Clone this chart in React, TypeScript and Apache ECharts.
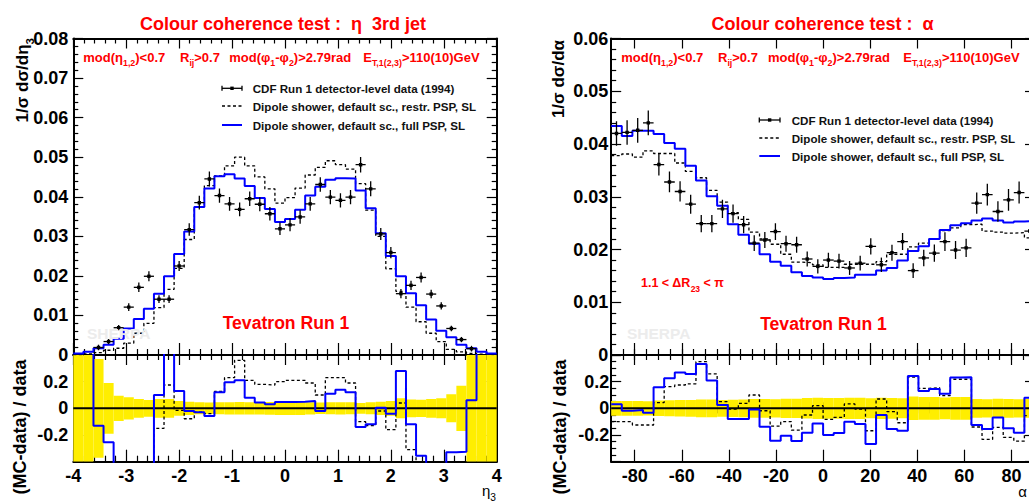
import React, { useEffect, useRef } from 'react';
import * as echarts from 'echarts';

const FONT = '"Liberation Sans", Arial, Helvetica, sans-serif';
const RED = '#ff0000';
const BLUE = '#0000ff';
const YELLOW = '#ffee00';

// ---------- left panel: eta of the 3rd jet, 42 bins on [-4, 4] ----------
const ETA_MIN = -4;
const ETA_MAX = 4;
const ETA_BINS = 42;
const etaData = [null, null, 0.0019, 0.0034, 0.0069, 0.0121, 0.0171, 0.0199, 0.0141, 0.0141, 0.0225, 0.0317, 0.0385, 0.0445, 0.0403, 0.0382, 0.0368, 0.0395, 0.0381, 0.0357, 0.0319, 0.0329, 0.0349, 0.0382, 0.0431, 0.0399, 0.0391, 0.0399, 0.0481, 0.042, 0.0306, 0.0259, 0.0155, 0.0176, 0.0196, 0.0154, 0.0124, 0.0067, 0.0039, 0.0016, null, null];
const etaRelErr = [1, 1, 0.37, 0.19, 0.095, 0.083, 0.07, 0.063, 0.07, 0.07, 0.055, 0.05, 0.045, 0.043, 0.045, 0.046, 0.047, 0.046, 0.046, 0.048, 0.05, 0.05, 0.049, 0.046, 0.043, 0.045, 0.046, 0.045, 0.041, 0.045, 0.05, 0.055, 0.075, 0.066, 0.065, 0.07, 0.075, 0.105, 0.17, 0.45, 1, 1];
const etaRestr = [0.0001, 0.0003, 0.0006, 0.0012, 0.0017, 0.003, 0.0055, 0.008, 0.012, 0.0166, 0.0219, 0.0292, 0.0373, 0.0428, 0.0453, 0.0478, 0.05, 0.0478, 0.045, 0.042, 0.0384, 0.0398, 0.0422, 0.0455, 0.0474, 0.0491, 0.0481, 0.047, 0.0433, 0.0366, 0.03, 0.0218, 0.0161, 0.0121, 0.0084, 0.0055, 0.0034, 0.0014, 0.0008, 0.0004, 0.0002, 0.0001];
const etaFull = [0.0004, 0.0008, 0.0017, 0.0026, 0.0041, 0.0067, 0.0091, 0.0117, 0.0155, 0.0199, 0.0255, 0.0312, 0.0374, 0.0421, 0.0452, 0.0457, 0.0446, 0.0427, 0.0397, 0.0369, 0.0336, 0.0344, 0.0367, 0.0403, 0.0425, 0.0443, 0.0447, 0.0446, 0.0416, 0.0371, 0.0308, 0.025, 0.0199, 0.0156, 0.0126, 0.009, 0.0061, 0.0045, 0.0026, 0.0017, 0.0008, 0.0004];
const etaRatioRestr = [-0.6, -0.6, -0.6, -0.6, -0.6, -0.6, -0.6, -0.6, -0.15, 0.175, -0.015, -0.078, -0.028, -0.04, 0.127, 0.23, 0.36, 0.21, 0.18, 0.175, 0.2, 0.21, 0.21, 0.19, 0.1, 0.23, 0.23, 0.19, -0.1, -0.13, -0.02, -0.16, 0.04, -0.31, -0.6, -0.6, -0.6, -0.6, -0.6, -0.6, -0.6, -0.6];
const etaRatioFull = [0.6, 0.6, -0.13, -0.255, -0.6, -0.6, -0.6, -0.6, 0.1, 0.6, 0.13, -0.02, -0.03, -0.058, 0.12, 0.195, 0.21, 0.08, 0.043, 0.03, 0.048, 0.048, 0.05, 0.055, -0.02, 0.11, 0.14, 0.12, -0.14, -0.12, 0.005, -0.04, 0.28, -0.12, -0.355, -0.6, -0.6, -0.33, -0.325, 0.06, 0.6, 0.6];

// ---------- right panel: alpha, 40 bins on [-90, 90] ----------
const ALPHA_MIN = -90;
const ALPHA_MAX = 90;
const ALPHA_BINS = 40;
const alphaMajorTicks = [-80, -60, -40, -20, 0, 20, 40, 60, 80];
const alphaData = [0.042, 0.0422, 0.0426, 0.044, 0.0361, 0.0328, 0.031, 0.0286, 0.0249, 0.0249, 0.0277, 0.0268, 0.0247, 0.0212, 0.0218, 0.0234, 0.0211, 0.0209, 0.0182, 0.0168, 0.018, 0.0178, 0.0165, 0.0174, 0.0206, 0.0171, 0.0194, 0.0215, 0.016, 0.0184, 0.0193, 0.0215, 0.0199, 0.0203, 0.0288, 0.0304, 0.0272, 0.0294, 0.0308, 0.0235];
const alphaRelErr = [0.055, 0.055, 0.055, 0.053, 0.058, 0.06, 0.062, 0.063, 0.066, 0.066, 0.063, 0.064, 0.066, 0.07, 0.07, 0.068, 0.072, 0.072, 0.077, 0.08, 0.078, 0.078, 0.08, 0.08, 0.075, 0.08, 0.078, 0.075, 0.088, 0.085, 0.085, 0.082, 0.085, 0.085, 0.07, 0.068, 0.072, 0.07, 0.068, 0.07];
const alphaRestr = [0.0378, 0.0381, 0.0375, 0.0387, 0.0382, 0.0382, 0.0364, 0.0348, 0.0336, 0.0312, 0.029, 0.027, 0.0257, 0.0233, 0.022, 0.021, 0.0191, 0.0176, 0.0175, 0.0171, 0.0166, 0.0166, 0.0172, 0.0172, 0.0172, 0.0177, 0.0191, 0.0191, 0.0205, 0.0212, 0.022, 0.0236, 0.0241, 0.0247, 0.0248, 0.0235, 0.0233, 0.0231, 0.0232, 0.0222];
const alphaFull = [0.0434, 0.0415, 0.0425, 0.0425, 0.0419, 0.0402, 0.0391, 0.0359, 0.0331, 0.0301, 0.0283, 0.0248, 0.0228, 0.0211, 0.0191, 0.0177, 0.0169, 0.0157, 0.015, 0.0147, 0.0144, 0.0146, 0.0147, 0.0152, 0.0152, 0.016, 0.0165, 0.0179, 0.0197, 0.0206, 0.022, 0.0237, 0.0246, 0.025, 0.0255, 0.0259, 0.0255, 0.0251, 0.0253, 0.0254];
const alphaRatioRestr = [-0.1, -0.1, -0.125, -0.125, 0.043, 0.163, 0.175, 0.183, 0.35, 0.258, 0.05, -0.005, 0.038, 0.1, -0.018, -0.133, -0.1, -0.163, -0.05, 0.02, -0.083, -0.068, 0.033, -0.005, -0.168, 0.07, -0.025, -0.108, 0.235, 0.15, 0.155, 0.095, 0.218, 0.218, -0.14, -0.233, -0.143, -0.218, -0.245, -0.055];
const alphaRatioFull = [0.03, -0.018, -0.013, -0.033, 0.158, 0.225, 0.268, 0.258, 0.333, 0.208, 0.025, -0.08, -0.08, -0.008, -0.138, -0.243, -0.205, -0.245, -0.183, -0.113, -0.2, -0.185, -0.1, -0.118, -0.268, -0.05, -0.155, -0.168, 0.243, 0.13, 0.145, 0.11, 0.232, 0.233, -0.125, -0.155, -0.068, -0.15, -0.183, 0.08];

const RATIO_LIM = 0.4;

// ---------- helpers ----------
function binEdges(min: number, max: number, n: number) {
  return Array.from({ length: n + 1 }, (_, k) => min + ((max - min) * k) / n);
}
function stepData(ed: number[], vals: number[]) {
  const d = vals.map((v, k) => [ed[k], v]);
  d.push([ed[vals.length], vals[vals.length - 1]]);
  return d;
}
function errData(ed: number[], vals: (number | null)[], rel: number[]) {
  const out: number[][] = [];
  vals.forEach((v, k) => {
    if (v == null) return;
    out.push([(ed[k] + ed[k + 1]) / 2, ed[k], ed[k + 1], v, v * rel[k]]);
  });
  return out;
}
function bandData(ed: number[], rel: number[]) {
  return rel.map((r, k) => [ed[k], ed[k + 1], r]);
}

const tickLine = { color: '#000', width: 1.2 };
const frameLine = { show: true, onZero: false, lineStyle: { color: '#000', width: 2 } };
const labelStyle = { show: true, color: '#000', fontFamily: FONT, fontWeight: 'bold', fontSize: 18 };

function etaX(grid: number, position: string, major: number, minor: number, labels: boolean) {
  return {
    type: 'value', gridIndex: grid, position, min: ETA_MIN, max: ETA_MAX, interval: 1,
    axisLine: frameLine,
    axisTick: { show: true, inside: true, length: major, lineStyle: tickLine },
    minorTick: { show: true, splitNumber: 5, length: minor, lineStyle: tickLine },
    axisLabel: labels ? { ...labelStyle, margin: 5 } : { show: false },
    splitLine: { show: false },
  };
}
function alphaXMajor(grid: number, position: string, major: number, labels: boolean) {
  return {
    type: 'value', gridIndex: grid, position, min: ALPHA_MIN, max: ALPHA_MAX, interval: 5,
    axisLine: frameLine,
    axisTick: { show: true, inside: true, length: major, lineStyle: tickLine, customValues: alphaMajorTicks },
    axisLabel: labels
      ? { ...labelStyle, margin: 5, customValues: alphaMajorTicks,
          formatter: (v: number) => (alphaMajorTicks.includes(Math.round(v)) ? String(Math.round(v)) : '') }
      : { show: false },
    splitLine: { show: false },
  };
}
function alphaXMinor(grid: number, position: string, minor: number) {
  return {
    type: 'value', gridIndex: grid, position, min: ALPHA_MIN, max: ALPHA_MAX, interval: 5,
    axisLine: { show: false },
    axisTick: { show: true, inside: true, length: minor, lineStyle: tickLine },
    axisLabel: { show: false },
    splitLine: { show: false },
  };
}
function yAx(grid: number, position: string, min: number, max: number, interval: number, split: number, labels: boolean, margin: number, hideEnds: boolean) {
  return {
    type: 'value', gridIndex: grid, position, min, max, interval,
    axisLine: frameLine,
    axisTick: { show: true, inside: true, length: 10, lineStyle: tickLine },
    minorTick: { show: true, splitNumber: split, length: 5, lineStyle: tickLine },
    axisLabel: labels ? { ...labelStyle, margin, showMinLabel: !hideEnds, showMaxLabel: !hideEnds } : { show: false },
    splitLine: { show: false },
  };
}

function bandSeries(xi: number, yi: number, data: number[][]) {
  return {
    type: 'custom', xAxisIndex: xi, yAxisIndex: yi, z: 1, clip: true, silent: true,
    data,
    renderItem: (_p: any, api: any) => {
      const r = Math.min(api.value(2), RATIO_LIM);
      const p0 = api.coord([api.value(0), r]);
      const p1 = api.coord([api.value(1), -r]);
      return { type: 'rect', shape: { x: p0[0], y: p0[1], width: p1[0] - p0[0], height: p1[1] - p0[1] }, style: { fill: YELLOW } };
    },
  };
}
function errSeries(xi: number, yi: number, data: number[][]) {
  return {
    type: 'custom', xAxisIndex: xi, yAxisIndex: yi, z: 5, clip: true, silent: true,
    data,
    renderItem: (_p: any, api: any) => {
      const xc = api.value(0), x0 = api.value(1), x1 = api.value(2), v = api.value(3), e = api.value(4);
      const pc = api.coord([xc, v]);
      const pl = api.coord([x0, v]);
      const pr = api.coord([x1, v]);
      const pt = api.coord([xc, v + e]);
      const pb = api.coord([xc, Math.max(v - e, 0)]);
      const st = { stroke: '#000', lineWidth: 1.3 };
      return {
        type: 'group',
        children: [
          { type: 'line', shape: { x1: pl[0], y1: pl[1], x2: pr[0], y2: pr[1] }, style: st },
          { type: 'line', shape: { x1: pt[0], y1: pt[1], x2: pb[0], y2: pb[1] }, style: st },
          { type: 'rect', shape: { x: pc[0] - 1.7, y: pc[1] - 1.7, width: 3.4, height: 3.4 }, style: { fill: '#000' } },
        ],
      };
    },
  };
}
function stepSeries(xi: number, yi: number, data: number[][], color: string, width: number, dashed: boolean) {
  return {
    type: 'line', xAxisIndex: xi, yAxisIndex: yi, step: 'end', symbol: 'none', z: 3, clip: true, silent: true,
    data,
    lineStyle: { color, width, type: dashed ? [3, 2.5] : 'solid' },
  };
}
function zeroLine(xi: number, yi: number, min: number, max: number) {
  return {
    type: 'line', xAxisIndex: xi, yAxisIndex: yi, symbol: 'none', z: 2, silent: true,
    data: [[min, 0], [max, 0]],
    lineStyle: { color: '#000', width: 2 },
  };
}

// ---------- text helpers ----------
function rich(x: number, y: number, parts: [string, boolean][], size: number, color: string, opts: any = {}) {
  const text = parts.map(([t, s]) => `{${s ? 's' : 'm'}|${t}}`).join('');
  const weight = opts.weight || 'bold';
  return {
    type: 'text', x, y, rotation: opts.rotation || 0, z: 10, silent: true,
    style: {
      text,
      align: opts.align || 'left',
      verticalAlign: 'middle',
      rich: {
        m: { fontSize: size, fontFamily: FONT, fontWeight: weight, fill: color, lineHeight: size * 1.6, verticalAlign: 'middle' },
        s: { fontSize: size * 0.68, fontFamily: FONT, fontWeight: weight, fill: color, lineHeight: size * 0.68, verticalAlign: 'bottom' },
      },
    },
  };
}
function plain(x: number, y: number, text: string, size: number, color: string, opts: any = {}) {
  return {
    type: 'text', x, y, rotation: opts.rotation || 0, z: 10, silent: true,
    style: {
      text, fill: color, fontSize: size, fontFamily: FONT, fontWeight: opts.weight || 'bold',
      align: opts.align || 'left', verticalAlign: 'middle',
    },
  };
}
function legend(x0: number, x1: number, tx: number, ys: number[]) {
  const mid = (x0 + x1) / 2;
  const st = { stroke: '#000', lineWidth: 1.3 };
  const size = 11.6;
  return [
    { type: 'line', shape: { x1: x0, y1: ys[0], x2: x1, y2: ys[0] }, style: st, z: 10 },
    { type: 'line', shape: { x1: x0, y1: ys[0] - 2.5, x2: x0, y2: ys[0] + 2.5 }, style: st, z: 10 },
    { type: 'line', shape: { x1: x1, y1: ys[0] - 2.5, x2: x1, y2: ys[0] + 2.5 }, style: st, z: 10 },
    { type: 'rect', shape: { x: mid - 1.7, y: ys[0] - 1.7, width: 3.4, height: 3.4 }, style: { fill: '#000' }, z: 10 },
    { type: 'line', shape: { x1: x0, y1: ys[1], x2: x1, y2: ys[1] }, style: { stroke: '#000', lineWidth: 1.3, lineDash: [3, 2.5] }, z: 10 },
    { type: 'line', shape: { x1: x0, y1: ys[2], x2: x1, y2: ys[2] }, style: { stroke: BLUE, lineWidth: 2 }, z: 10 },
    plain(tx, ys[0], 'CDF Run 1 detector-level data (1994)', size, '#111'),
    plain(tx, ys[1], 'Dipole shower, default sc., restr. PSP, SL', size, '#111'),
    plain(tx, ys[2], 'Dipole shower, default sc., full PSP, SL', size, '#111'),
  ];
}
function cuts(starts: number[], y: number) {
  const sz = 13;
  return [
    rich(starts[0], y, [['mod(η', false], ['1,2', true], [')<0.7', false]], sz, RED),
    rich(starts[1], y, [['R', false], ['ij', true], ['>0.7', false]], sz, RED),
    rich(starts[2], y, [['mod(φ', false], ['1', true], ['-φ', false], ['2', true], [')>2.79rad', false]], sz, RED),
    rich(starts[3], y, [['E', false], ['T,1(2,3)', true], ['>110(10)GeV', false]], sz, RED),
  ];
}

export default function App() {
  const ref = useRef<HTMLDivElement>(null);
  useEffect(() => {
    if (!ref.current) return;
    const chart = echarts.init(ref.current, undefined, { renderer: 'svg' });
    const etaEd = binEdges(ETA_MIN, ETA_MAX, ETA_BINS);
    const alEd = binEdges(ALPHA_MIN, ALPHA_MAX, ALPHA_BINS);

    const option: any = {
      animation: false,
      backgroundColor: '#ffffff',
      grid: [
        { left: 73.3, top: 38.5, width: 423.4, height: 316.5 },
        { left: 73.3, top: 355, width: 423.4, height: 106.7 },
        { left: 611.2, top: 38.5, width: 423.8, height: 316.5 },
        { left: 611.2, top: 355, width: 423.8, height: 106.7 },
      ],
      xAxis: [
        etaX(0, 'bottom', 12, 6, false),
        etaX(0, 'top', 10, 5, false),
        etaX(1, 'bottom', 12, 6, true),
        etaX(1, 'top', 10, 5, false),
        alphaXMajor(2, 'bottom', 12, false),
        alphaXMinor(2, 'bottom', 6),
        alphaXMajor(2, 'top', 10, false),
        alphaXMinor(2, 'top', 5),
        alphaXMajor(3, 'bottom', 12, true),
        alphaXMinor(3, 'bottom', 6),
        alphaXMajor(3, 'top', 10, false),
        alphaXMinor(3, 'top', 5),
      ],
      yAxis: [
        yAx(0, 'left', 0, 0.08, 0.01, 5, true, 5, false),
        yAx(0, 'right', 0, 0.08, 0.01, 5, false, 5, false),
        yAx(1, 'left', -RATIO_LIM, RATIO_LIM, 0.2, 4, true, 5, true),
        yAx(1, 'right', -RATIO_LIM, RATIO_LIM, 0.2, 4, false, 5, true),
        yAx(2, 'left', 0, 0.06, 0.01, 5, true, 3, false),
        yAx(2, 'right', 0, 0.06, 0.01, 5, false, 3, false),
        yAx(3, 'left', -RATIO_LIM, RATIO_LIM, 0.2, 4, true, 2, true),
        yAx(3, 'right', -RATIO_LIM, RATIO_LIM, 0.2, 4, false, 2, true),
      ],
      series: [
        // left main
        stepSeries(0, 0, stepData(etaEd, etaRestr), '#000', 1.3, true),
        stepSeries(0, 0, stepData(etaEd, etaFull), BLUE, 2, false),
        errSeries(0, 0, errData(etaEd, etaData, etaRelErr)),
        // left ratio
        bandSeries(2, 2, bandData(etaEd, etaRelErr)),
        zeroLine(2, 2, ETA_MIN, ETA_MAX),
        stepSeries(2, 2, stepData(etaEd, etaRatioRestr), '#000', 1.3, true),
        stepSeries(2, 2, stepData(etaEd, etaRatioFull), BLUE, 2, false),
        // right main
        stepSeries(4, 4, stepData(alEd, alphaRestr), '#000', 1.3, true),
        stepSeries(4, 4, stepData(alEd, alphaFull), BLUE, 2, false),
        errSeries(4, 4, errData(alEd, alphaData, alphaRelErr)),
        // right ratio
        bandSeries(8, 6, bandData(alEd, alphaRelErr)),
        zeroLine(8, 6, ALPHA_MIN, ALPHA_MAX),
        stepSeries(8, 6, stepData(alEd, alphaRatioRestr), '#000', 1.3, true),
        stepSeries(8, 6, stepData(alEd, alphaRatioFull), BLUE, 2, false),
      ],
      graphic: [
        plain(283, 24, 'Colour coherence test :  η  3rd jet', 18, RED, { align: 'center' }),
        plain(822.5, 24, 'Colour coherence test :  α', 18, RED, { align: 'center' }),
        ...cuts([83.3, 180, 229.3, 363.3], 57),
        ...cuts([621.3, 718, 768, 903.3], 57),
        ...legend(222, 242, 252.7, [88.3, 106, 125]),
        ...legend(759.3, 780, 791.7, [120, 138, 156]),
        plain(286, 323, 'Tevatron Run 1', 17.6, RED, { align: 'center' }),
        plain(823.5, 324, 'Tevatron Run 1', 17.6, RED, { align: 'center' }),
        plain(87, 333, 'SHERPA', 15.5, '#ececec'),
        plain(627, 333, 'SHERPA', 15.5, '#ececec'),
        rich(641, 283, [['1.1 < ΔR', false], ['23', true], [' < π', false]], 12.5, RED),
        rich(22, 38, [['1/σ dσ/dη', false], ['3', true]], 17, '#000', { rotation: Math.PI / 2, align: 'right' }),
        rich(558, 40, [['1/σ dσ/dα', false]], 17, '#000', { rotation: Math.PI / 2, align: 'right' }),
        plain(20, 427, '(MC-data) / data', 18, '#000', { rotation: Math.PI / 2, align: 'center' }),
        plain(560, 427, '(MC-data) / data', 18, '#000', { rotation: Math.PI / 2, align: 'center' }),
        rich(496, 490, [['η', false], ['3', true]], 15, '#000', { align: 'right', weight: 'normal' }),
        plain(1027, 491, 'α', 15, '#000', { align: 'right', weight: 'normal' }),
      ],
    };
    chart.setOption(option);
    return () => chart.dispose();
  }, []);

  return (
    <div style={{ position: 'fixed', left: 0, top: 0, width: 1029, height: 502, overflow: 'hidden', background: '#fff' }}>
      <div ref={ref} style={{ width: 1040, height: 502 }} />
    </div>
  );
}
